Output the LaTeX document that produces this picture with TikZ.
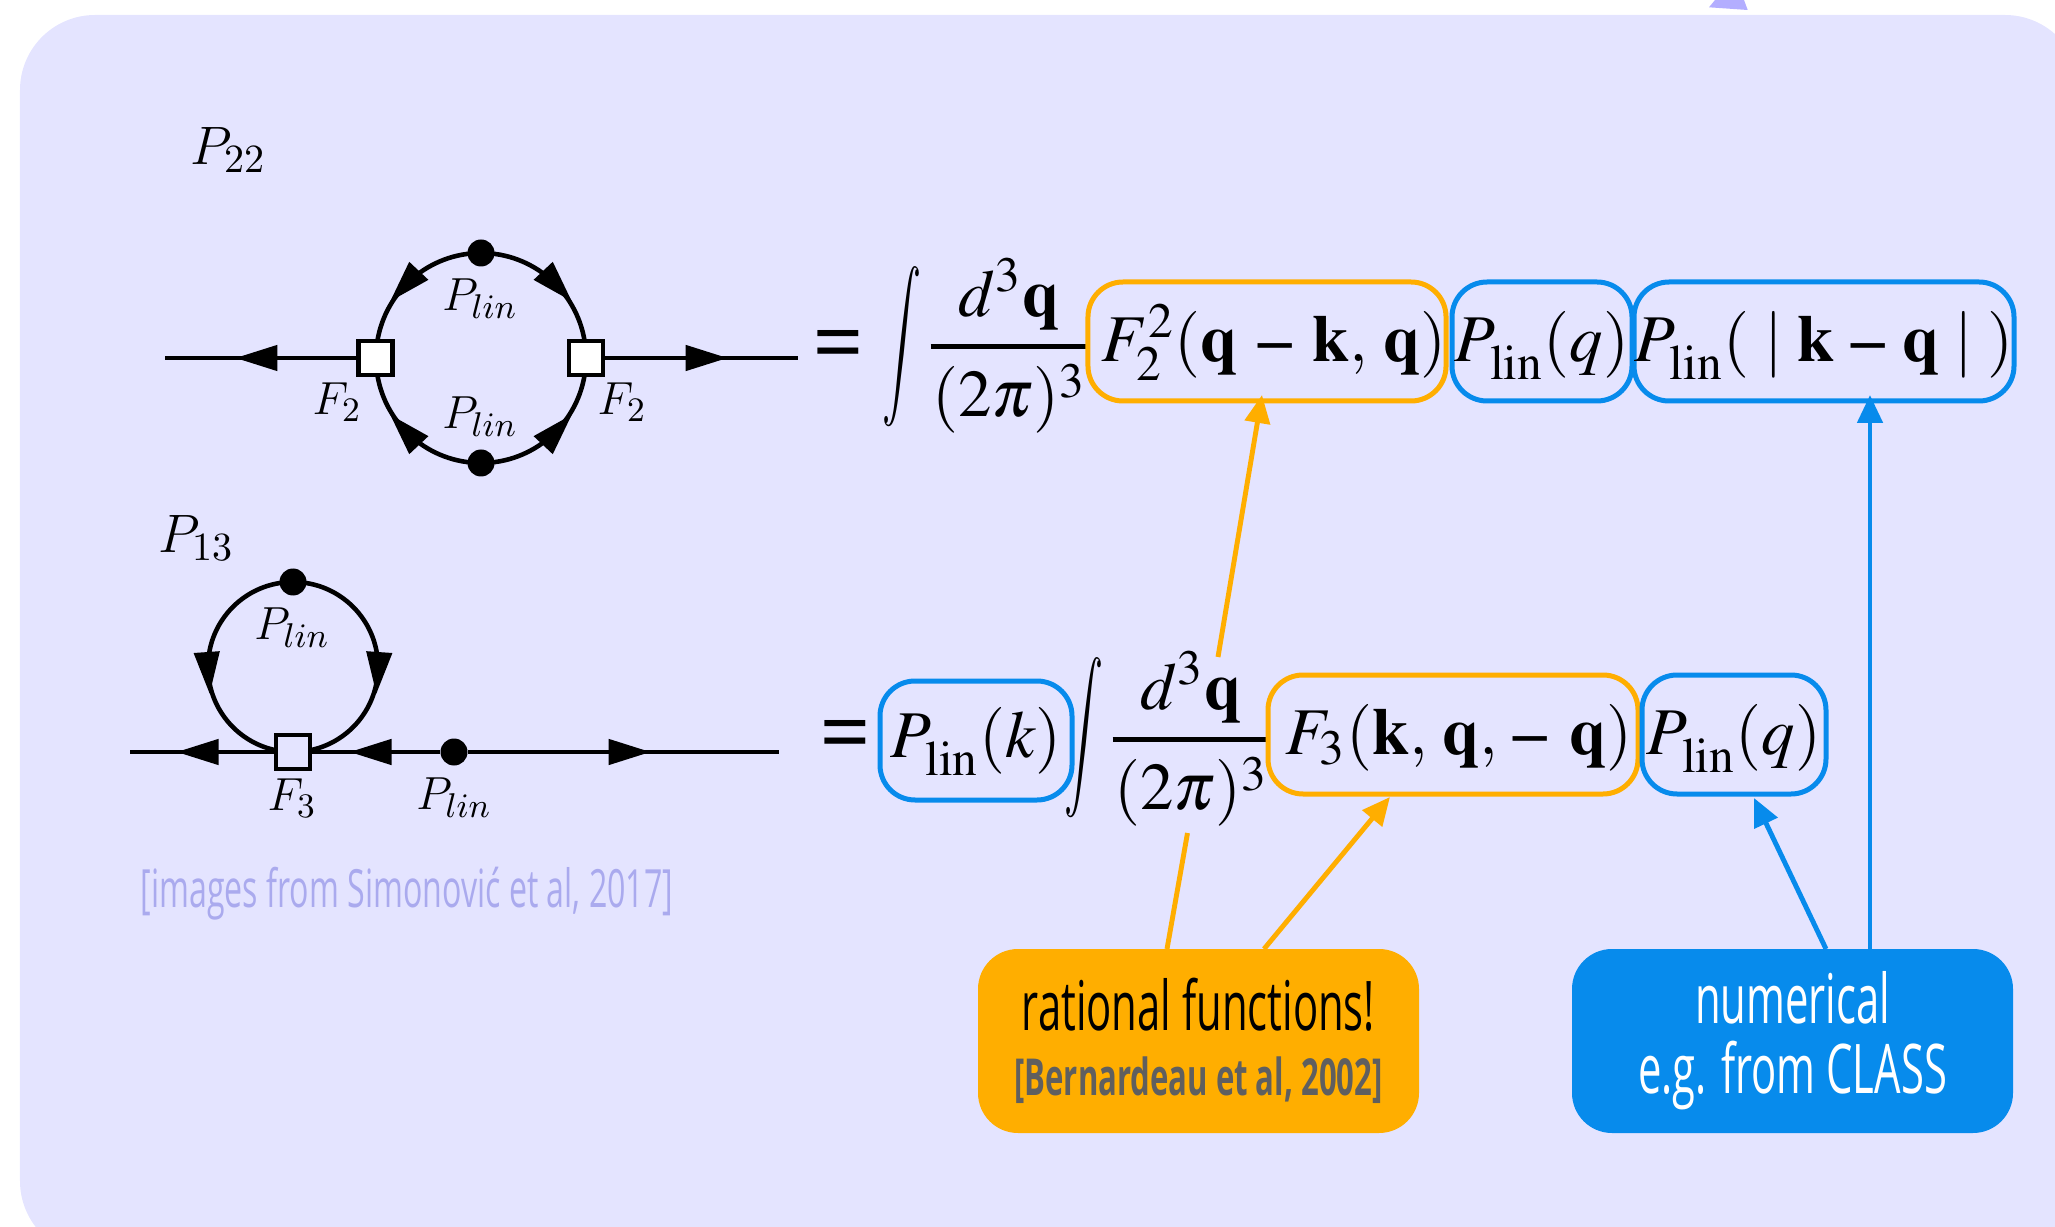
\documentclass[tikz,border=0pt]{standalone}
\usepackage{fix-cm}
\usepackage{mathptmx}
\usepackage[no-math]{fontspec}
\setmainfont{Liberation Serif}
\newfontfamily\condsf[FakeStretch=0.61]{Open Sans}
\DeclareMathAlphabet{\mathcmi}{OML}{cmm}{m}{it}
\DeclareMathAlphabet{\mathcmr}{OT1}{cmr}{m}{n}
\usetikzlibrary{arrows.meta,decorations.markings}
\definecolor{panelcol}{HTML}{E4E4FF}
\definecolor{ratcol}{HTML}{FFAE00}
\definecolor{numcol}{HTML}{078BEC}
\definecolor{citecol}{HTML}{AAAAEE}
\definecolor{tipcol}{HTML}{B3AEFF}
\definecolor{greycol}{HTML}{5F5F5F}
\tikzset{feytip/.tip={Triangle[length=4.2mm,width=2.5mm]},
  arrtip/.tip={Triangle[length=2.8mm,width=2.5mm]},
  fey/.style={line width=1.3pt, decoration={markings, mark=at position #1 with {\arrow{feytip}}}, postaction={decorate}},
  feyarc/.style={line width=1.3pt, decoration={markings, mark=at position #1 with {\arrow[xshift=2.1mm]{feytip}}}, postaction={decorate}},
  vert/.style={draw, line width=1.3pt, minimum size=3.4mm, inner sep=0pt},
  blob/.style={circle, fill=black, minimum size=2.7mm, inner sep=0pt},
  lab/.style={font=\fontsize{13.2}{15}\selectfont},
  big/.style={font=\fontsize{19}{23}\selectfont},
  eqsign/.style={font=\fontsize{25}{28}\selectfont},
  intsign/.style={big, xscale=.65, yscale=1.2, transform shape},
  term/.style={big, draw, line width=.5mm, rounded corners=3.5mm, inner sep=0pt, minimum height=11.9mm, text height=6mm, text depth=2mm},
  ratterm/.style={term, draw=ratcol},
  numterm/.style={term, draw=numcol},
  callout/.style={rounded corners=4mm, minimum width=44.1mm, minimum height=18.4mm, inner sep=0pt, align=center, font=\condsf\fontsize{19.5}{20}\selectfont},
  pipe/.style={line width=1.4pt, -{arrtip}}}
\newcommand{\plin}{$\mathcmi{P}_{\mathcmi{lin}}$}
\newcommand{\fracq}{$\displaystyle{d^3\mathbf{q} \above 1.4pt \hspace{.15mm}(2\pi)^3\hspace{.15mm}}$}
\newcommand{\bminus}{\mathbin{\mbox{\textbf{--}}}}
\newcommand{\Plin}{P_{\mkern1mu\raisebox{-.8mm}{$\scriptstyle\mathrm{lin}$}}}
\newcommand{\beq}{\textbf{=}}
\begin{document}
\begin{tikzpicture}
  \clip (0,0) rectangle (20.55,12.26);
  \useasboundingbox (0,0) rectangle (20.55,12.26);
  \fill[panelcol, rounded corners=7.5mm] (0.2,-0.3) rectangle (20.8,12.11);
  \fill[tipcol] (17.09,12.187) -- (17.477,12.16) -- (17.44,12.26) -- (17.15,12.26) -- cycle;

  % P22 diagram
  \node[font=\fontsize{15.4}{18}\selectfont] (titleA) at (2.28,10.76) {$\mathcmi{P}_{\mathcmr{22}}$};
  \node[vert, fill=white] (sqL) at (3.755,8.68) {};
  \node[vert, fill=white] (sqR) at (5.86,8.68) {};
  \node[blob] (dotT) at (4.81,9.73) {};
  \node[blob] (dotB) at (4.81,7.63) {};
  \coordinate (endL) at (1.65,8.68);
  \coordinate (endR) at (7.98,8.68);
  \draw[fey=0.632] (sqL.west) -- (endL);
  \draw[fey=0.635] (sqR.east) -- (endR);
  \draw[feyarc=0.58] (dotT.center) arc[start angle=90, delta angle=80.7, radius=1.05];
  \draw[feyarc=0.58] (dotT.center) arc[start angle=90, delta angle=-80.7, radius=1.05];
  \draw[feyarc=0.58] (dotB.center) arc[start angle=270, delta angle=-80.7, radius=1.05];
  \draw[feyarc=0.58] (dotB.center) arc[start angle=270, delta angle=80.7, radius=1.05];
  \node[lab] (plinT) at (4.8,9.27) {\plin};
  \node[lab] (plinB) at (4.8,8.09) {\plin};
  \node[lab] (vtxL) at (3.37,8.24) {$\mathcmi{F}_{\mathcmr{2}}$};
  \node[lab] (vtxR) at (6.22,8.24) {$\mathcmi{F}_{\mathcmr{2}}$};

  % P13 diagram
  \node[font=\fontsize{15.4}{18}\selectfont] (titleB) at (1.96,6.88) {$\mathcmi{P}_{\mathcmr{13}}$};
  \node[vert, fill=panelcol] (sqC) at (2.93,4.74) {};
  \node[blob] (dotL) at (2.93,6.44) {};
  \node[blob] (dotP) at (4.54,4.74) {};
  \coordinate (endA) at (1.3,4.74);
  \coordinate (endB) at (7.79,4.74);
  \draw[fey=0.676] (sqC.west) -- (endA);
  \draw[fey=0.708] (dotP.west) -- (sqC.east);
  \draw[fey=0.587] (dotP.east) -- (endB);
  \draw[feyarc=0.56] (dotL.center) arc[start angle=90, delta angle=168, radius=0.85];
  \draw[feyarc=0.56] (dotL.center) arc[start angle=90, delta angle=-168, radius=0.85];
  \node[lab] (plinL) at (2.92,5.98) {\plin};
  \node[lab] (vtxC) at (2.92,4.28) {$\mathcmi{F}_{\mathcmr{3}}$};
  \node[lab] (plinP) at (4.54,4.28) {\plin};
  \node[font=\condsf\fontsize{15}{18}\selectfont, text=citecol] (imgcite) at (4.07,3.32) {[images from Simonović et al, 2017]};

  % first integral
  \node[eqsign] (eqA) at (8.39,8.75) {\beq};
  \node[intsign] (intA) at (9.02,8.79) {$\displaystyle\int$};
  \node[big, inner sep=0pt] (fracA) at (10.09,8.8) {\fracq};
  \node[ratterm, minimum width=35.8mm] (ftwo) at (12.67,8.845) {\hspace{1.4mm}$F_2^2(\mathbf{q}\mkern3mu\bminus\mkern3mu\mathbf{k},\,\mathbf{q})$};
  \node[numterm, minimum width=18mm] (plinq) at (15.42,8.845) {$\Plin(q)$};
  \node[numterm, minimum width=38mm] (plinkq) at (18.24,8.845) {$\Plin(\;|\;\mathbf{k}\mkern2mu\bminus\mkern2mu\mathbf{q}\;|\;)$};

  % second integral
  \node[eqsign] (eqB) at (8.46,4.85) {\beq};
  \node[numterm, minimum width=19.2mm, text height=5.7mm, text depth=2.4mm] (plink) at (9.76,4.855) {$\Plin(k)$};
  \node[intsign] (intB) at (10.84,4.88) {$\displaystyle\int$};
  \node[big, inner sep=0pt] (fracB) at (11.91,4.87) {\fracq};
  \node[ratterm, minimum width=37mm] (fthree) at (14.53,4.915) {\hspace{1.2mm}$F_3(\mathbf{k},\,\mathbf{q},\,\mbox{\textbf{--}}\mkern6mu\mathbf{q})$};
  \node[numterm, minimum width=18.4mm] (plinp) at (17.34,4.915) {$\Plin(q)$};

  % callouts
  \node[callout, fill=ratcol] (ratbox) at (11.985,1.85) {rational functions!\\[-1.6pt]{\fontsize{14.5}{18}\selectfont\bfseries\color{greycol}[Bernardeau et al, 2002]}};
  \node[callout, fill=numcol, text=white] (numbox) at (17.925,1.85) {numerical\\e.g. from CLASS};

  % arrows up
  \coordinate (ratA) at (11.67,2.77) ;
  \coordinate (gapA) at (11.875,3.93);
  \coordinate (gapB) at (12.18,5.69);
  \coordinate (ftwoin) at (12.62,8.31);
  \coordinate (ratB) at (12.64,2.77);
  \coordinate (fthreein) at (13.9,4.29);
  \coordinate (numA) at (18.26,2.77);
  \coordinate (plinpin) at (17.54,4.28);
  \coordinate (numB) at (18.7,2.77);
  \coordinate (plinkqin) at (18.7,8.31);
  \draw[line width=1.4pt, ratcol] (ratA) -- (gapA);
  \draw[pipe, ratcol] (gapB) -- (ftwoin);
  \draw[pipe, ratcol] (ratB) -- (fthreein);
  \draw[pipe, numcol] (numA) -- (plinpin);
  \draw[pipe, numcol] (numB) -- (plinkqin);
\end{tikzpicture}
\end{document}
